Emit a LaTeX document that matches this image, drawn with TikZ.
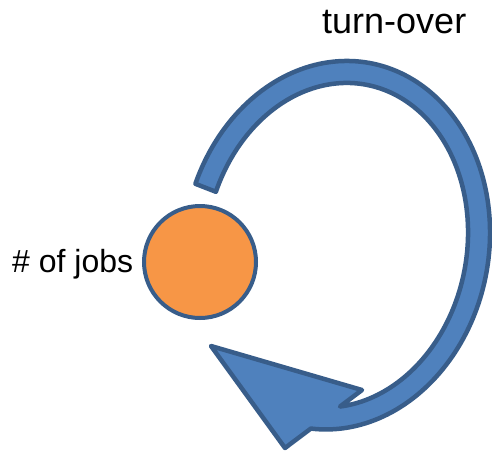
\documentclass[tikz,border=0pt]{standalone}
\usepackage{fontspec}
\setmainfont{Liberation Sans}
\definecolor{bandfill}{HTML}{4F81BD}
\definecolor{bandline}{HTML}{385D8A}
\definecolor{dotfill}{HTML}{F79646}
\tikzset{
  arrowband/.style={fill=bandfill, draw=bandline, line width=4.5pt, line join=round},
  dot/.style={circle, fill=dotfill, draw=bandline, line width=4pt, minimum size=112pt, inner sep=0pt},
  lbl/.style={inner sep=0pt, anchor=base west, text=black}
}
\begin{document}
\begin{tikzpicture}[x=1pt,y=-1pt]
\useasboundingbox (0,0) rectangle (492,455);
\coordinate (headbase) at (285,448);
\coordinate (headtip) at (211,346);
\coordinate (headbarb) at (362,390);
\draw[arrowband]
  plot[domain=191:447.2, samples=150, variable=\t]
    ({336.4 + 150.07*cos(\t) - 32.93*sin(\t)}, {245.2 + 27.11*cos(\t) + 182.25*sin(\t)})
  -- (headbase) -- (headtip) -- (headbarb)
  -- plot[domain=191:435.7, samples=150, variable=\s]
    ({336.4 + 128.42*cos(626.7-\s) - 29.02*sin(626.7-\s)}, {245.2 + 23.20*cos(626.7-\s) + 160.60*sin(626.7-\s)})
  -- cycle;
\node[dot] (jobs) at (200,262) {};
\node[lbl, font=\fontsize{32}{36}\selectfont] (jobslbl) at (12,272) {\# of jobs};
\node[lbl, font=\fontsize{36}{40}\selectfont] (turn) at (322,33) {turn-over};
\end{tikzpicture}
\end{document}
